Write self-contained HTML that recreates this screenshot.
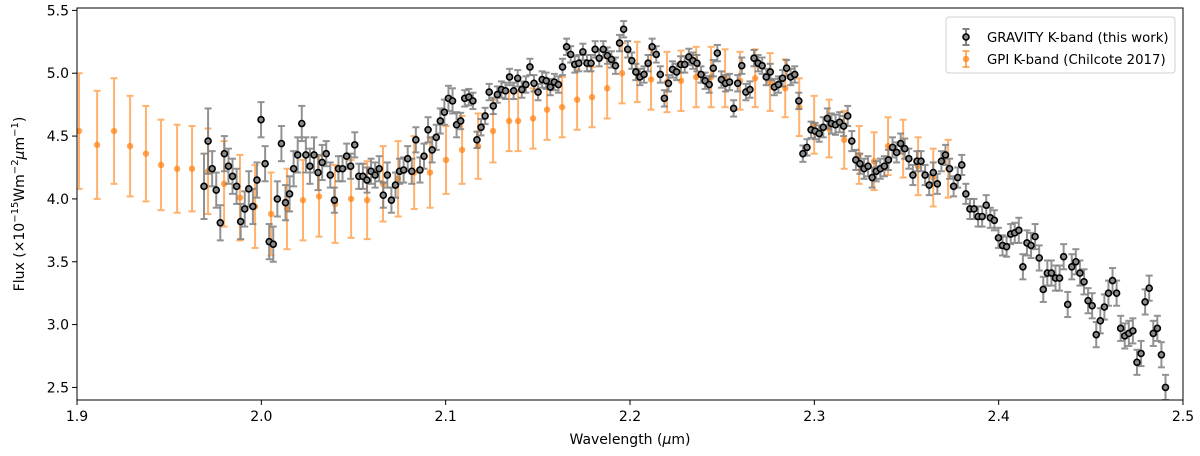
<!DOCTYPE html>
<html><head><meta charset="utf-8"><style>
html,body{margin:0;padding:0;background:#fff;}
svg{display:block;font-family:"DejaVu Sans","Liberation Sans",sans-serif;}
</style></head><body>
<svg id="chart" width="1200" height="456" viewBox="0 0 1200 456" xmlns="http://www.w3.org/2000/svg">
<g id="plot"></g>
</svg>
<script>
const gravityFlux = [4.10,4.46,4.24,4.07,3.81,4.36,4.26,4.18,4.10,3.82,3.92,4.08,3.94,4.15,4.63,4.28,3.66,3.64,4.00,4.44,3.97,4.04,4.24,4.35,4.60,4.35,4.26,4.35,4.21,4.29,4.36,4.19,3.99,4.24,4.24,4.34,4.26,4.43,4.18,4.18,4.15,4.22,4.19,4.24,4.03,4.19,3.99,4.11,4.22,4.23,4.32,4.22,4.47,4.23,4.34,4.55,4.39,4.49,4.62,4.69,4.80,4.78,4.59,
4.62,4.80,4.81,4.78,4.47,4.57,4.66,4.85,4.74,4.83,4.87,4.86,4.97,4.86,4.96,4.87,4.91,5.05,4.92,4.85,4.95,4.94,4.89,4.93,4.91,5.05,5.21,5.15,5.07,5.08,5.17,5.08,5.08,5.19,5.12,5.19,5.14,5.11,5.06,5.24,5.35,5.19,5.10,5.01,4.97,4.99,5.08,5.21,5.15,4.99,4.80,4.92,5.03,5.01,5.07,5.07,5.13,5.10,5.08,4.99,4.94,4.91,5.04,5.16,4.95,4.92,4.93,4.72,4.92,5.06,4.85,4.87,5.12,5.08,5.06,4.97,5.01,4.89,4.91,4.96,5.04,4.97,4.99,4.78,4.36,4.41,4.55,4.54,4.52,
4.57,4.64,4.60,4.59,4.61,4.58,4.66,4.46,4.31,4.28,4.24,4.26,4.17,4.22,4.24,4.26,4.31,4.41,4.37,4.44,4.40,4.32,4.19,4.30,4.30,4.19,4.11,4.21,4.12,4.30,4.35,4.24,4.10,4.17,4.27,4.04,3.92,3.92,3.86,3.86,3.95,3.85,3.83,3.69,3.63,3.62,3.72,3.73,3.75,3.46,3.65,3.63,3.70,3.53,3.28,3.41,3.41,3.37,3.37,3.54,3.16,3.46,3.50,3.41,3.34,3.19,3.15,2.92,3.03,3.14,3.25,3.35,3.25,2.97,2.91,2.93,2.95,2.70,2.77,3.18,3.29,2.93,2.97,2.76,2.50];
const gravityStart = 1.9689;
const gravityEnd = 2.4905;
const gravityErrSegments = [[2,0.26],[30,0.14],[63,0.10],[152,0.065],[200,0.08],[999,0.10]];
const gpiWave = [1.9011,1.9109,1.9201,1.9288,1.9374,1.9456,1.9543,1.9624,1.9711,1.9798,1.9884,1.9966,2.0053,2.0139,2.0226,2.0313,2.0400,2.0487,2.0574,2.0660,2.0742,2.0829,2.0915,2.1002,2.1089,2.1176,2.1257,2.1344,2.1393,2.1474,2.1550,2.1632,2.1713,2.1794,2.1876,2.1957,2.2039,2.2114,2.2201,2.2277,2.2359,2.2440,2.2516,2.2597,2.2679,2.2760,2.2842,2.2918,2.2999,2.3080,2.3162,2.3243,2.3324,2.3400,2.3482,2.3563,2.3645,2.3726];
const gpiFlux = [4.54,4.43,4.54,4.42,4.36,4.27,4.24,4.24,4.22,4.12,4.01,3.94,3.88,3.92,3.99,4.02,3.96,4.00,3.99,4.12,4.16,4.21,4.21,4.31,4.39,4.42,4.54,4.62,4.62,4.64,4.71,4.73,4.79,4.81,4.88,5.00,5.01,4.95,4.93,4.94,4.97,4.97,4.96,4.94,4.96,4.93,4.88,4.73,4.59,4.56,4.47,4.35,4.30,4.42,4.40,4.26,4.17,4.24];
const gpiErr = [0.46,0.43,0.42,0.40,0.38,0.36,0.35,0.34,0.34,0.34,0.34,0.33,0.33,0.32,0.32,0.32,0.31,0.31,0.31,0.30,0.30,0.29,0.28,0.27,0.27,0.26,0.25,0.24,0.24,0.24,0.24,0.24,0.24,0.24,0.24,0.24,0.24,0.24,0.24,0.24,0.24,0.24,0.23,0.23,0.23,0.23,0.23,0.23,0.23,0.23,0.23,0.23,0.23,0.23,0.23,0.23,0.23,0.23];
const xTicks = [1.9,2.0,2.1,2.2,2.3,2.4,2.5];
const yTicks = [2.5,3.0,3.5,4.0,4.5,5.0,5.5];

const L=77,R=1183,T=8,B=400, X0=1.9,X1=2.5,Y0=2.4,Y1=5.519;
const sx=v=>L+(v-X0)/(X1-X0)*(R-L);
const sy=v=>B-(v-Y0)/(Y1-Y0)*(B-T);
const NS="http://www.w3.org/2000/svg";
const svg=document.getElementById('chart');
const plot=document.getElementById('plot');
function mk(tag,attrs,parent){const e=document.createElementNS(NS,tag);for(const k in attrs)e.setAttribute(k,attrs[k]);(parent||svg).appendChild(e);return e;}

const defs=mk('defs',{});const cp=mk('clipPath',{id:'clip'},defs);mk('rect',{x:L,y:T,width:R-L,height:B-T},cp);
plot.setAttribute('clip-path','url(#clip)');

function errbar(parent,x,y,e,color,op,w,name){
  const g=mk('g',{stroke:color,'stroke-width':w,opacity:op},parent);
  
  
  mk('line',{x1:x,x2:x,y1:sy(y-e),y2:sy(y+e)},g);
  mk('line',{x1:x-3.5,x2:x+3.5,y1:sy(y-e),y2:sy(y-e)},g);
  mk('line',{x1:x-3.5,x2:x+3.5,y1:sy(y+e),y2:sy(y+e)},g);
}
const gpiG=mk('g',{},plot);


gpiWave.forEach((w,i)=>{
  const x=sx(w);
  errbar(gpiG,x,gpiFlux[i],gpiErr[i],'#ff7f0e',0.6,2,'gpi-errorbar');
  const c=mk('circle',{cx:x,cy:sy(gpiFlux[i]),r:3.2,fill:'#ff7f0e','fill-opacity':0.7},gpiG);
  
  
});
const grG=mk('g',{},plot);


const N=gravityFlux.length;
const gravityWave=gravityFlux.map((_,i)=>gravityStart+(gravityEnd-gravityStart)*i/(N-1));
function gErr(i){for(const s of gravityErrSegments){if(i<s[0])return s[1];}return 0.1;}
gravityFlux.forEach((f,i)=>errbar(grG,sx(gravityWave[i]),f,gErr(i),'#808080',0.85,2,'gravity-errorbar'));
gravityFlux.forEach((f,i)=>{
  const c=mk('circle',{cx:sx(gravityWave[i]),cy:sy(f),r:3,fill:'#8a8a8a',stroke:'#000','stroke-width':1.6},grG);
  
  
});

const fr=mk('rect',{x:L,y:T,width:R-L,height:B-T,fill:'none',stroke:'#000','stroke-width':1});


xTicks.forEach(t=>{
  const x=sx(t);
  const l=mk('line',{x1:x,x2:x,y1:B,y2:B+5,stroke:'#000'});
  
  
  const tx=mk('text',{x:x,y:B+21,'font-size':14,'text-anchor':'middle'});
  tx.textContent=t.toFixed(1);
  
  
});
yTicks.forEach(t=>{
  const y=sy(t);
  const l=mk('line',{x1:L-5,x2:L,y1:y,y2:y,stroke:'#000'});
  
  
  const tx=mk('text',{x:L-8,y:y+5,'font-size':14,'text-anchor':'end'});
  tx.textContent=t.toFixed(1);
  
  
});
</script>
<svg style="position:absolute;left:0;top:0" width="1200" height="456" xmlns="http://www.w3.org/2000/svg">
<text x="630" y="444" font-size="14" text-anchor="middle" font-family="DejaVu Sans, Liberation Sans, sans-serif">Wavelength (<tspan font-style="italic">μ</tspan>m)</text>
<text transform="translate(24,204) rotate(-90)" font-size="14" text-anchor="middle" font-family="DejaVu Sans, Liberation Sans, sans-serif">Flux (×10<tspan dy="-6" font-size="10">−15</tspan><tspan dy="6">Wm</tspan><tspan dy="-6" font-size="10">−2</tspan><tspan dy="6" font-style="italic">μ</tspan>m<tspan dy="-6" font-size="10">−1</tspan><tspan dy="6">)</tspan></text>
<g font-family="DejaVu Sans, Liberation Sans, sans-serif">
<rect x="946" y="17" width="229" height="56" rx="3" fill="#fff" fill-opacity="0.85" stroke="#d0d0d0"/>
<g>
<line x1="966" x2="966" y1="29" y2="45" stroke="#808080" stroke-width="2"/>
<line x1="962.5" x2="969.5" y1="29" y2="29" stroke="#808080" stroke-width="2"/>
<line x1="962.5" x2="969.5" y1="45" y2="45" stroke="#808080" stroke-width="2"/>
<circle cx="966" cy="37" r="3" fill="#8a8a8a" stroke="#000" stroke-width="1.6"/>
<text x="987" y="42" font-size="13.3">GRAVITY K-band (this work)</text>
</g>
<g>
<line x1="966" x2="966" y1="51" y2="67" stroke="#ff7f0e" stroke-opacity="0.6" stroke-width="2"/>
<line x1="962.5" x2="969.5" y1="51" y2="51" stroke="#ff7f0e" stroke-opacity="0.6" stroke-width="2"/>
<line x1="962.5" x2="969.5" y1="67" y2="67" stroke="#ff7f0e" stroke-opacity="0.6" stroke-width="2"/>
<circle cx="966" cy="59" r="3.2" fill="#ff7f0e" fill-opacity="0.7"/>
<text x="987" y="64" font-size="13.3">GPI K-band (Chilcote 2017)</text>
</g>
</g>
</svg>
</body></html>
